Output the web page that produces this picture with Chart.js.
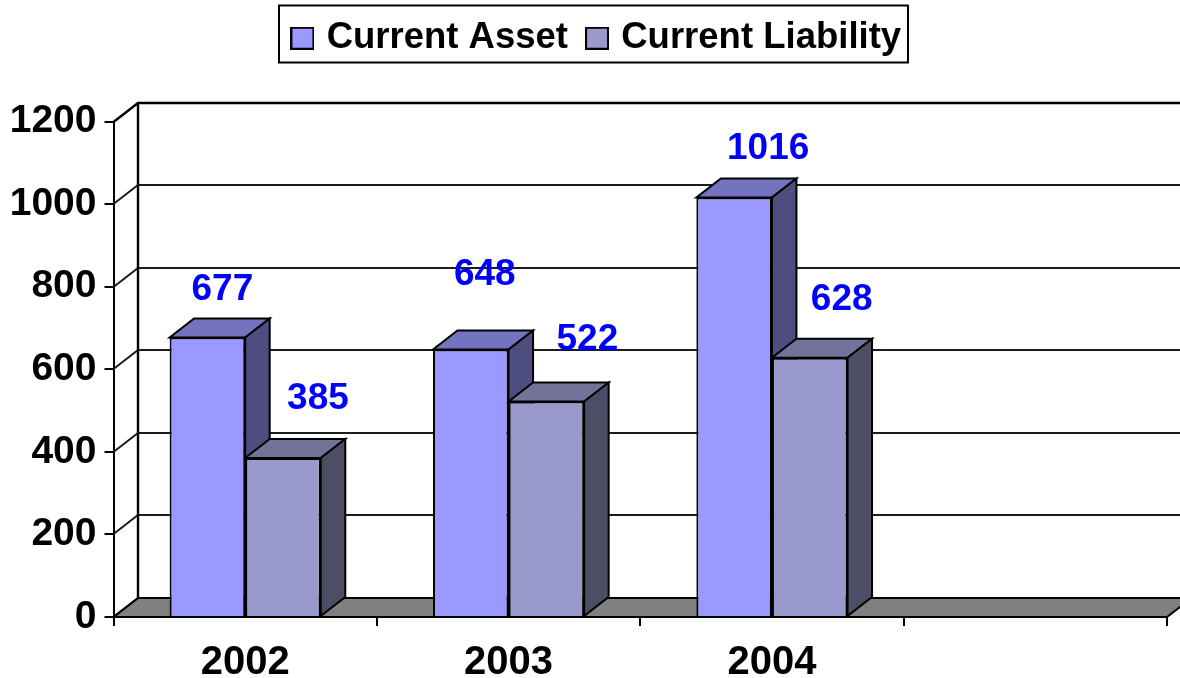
<!DOCTYPE html>
<html><head><meta charset="utf-8">
<style>html,body{margin:0;padding:0;background:#fff}#w{width:1180px;height:678px}canvas{display:block}</style>
<script src="https://cdn.jsdelivr.net/npm/chart.js@4"></script></head>
<body><div id="w"><canvas id="c" width="1180" height="678"></canvas></div>
<script>
const categories = ['2002', '2003', '2004', ''];
const currentAsset = [677, 648, 1016, null];
const currentLiability = [385, 522, 628, null];
const yTicks = [0, 200, 400, 600, 800, 1000, 1200];
// hand-placed data label nudges, as in the source (dx, dy from the bar's top centre)
const assetLabelNudge = [[15, -48], [14, -75], [34, -49]];
const liabilityLabelNudge = [[35, -59], [41, -62], [32, -58]];
const DX = 24.5, DY = -19;
const FONT = '"Liberation Sans", Arial, sans-serif';

function poly(ctx, pts, fill) {
  ctx.beginPath();
  pts.forEach((p, i) => i ? ctx.lineTo(p[0], p[1]) : ctx.moveTo(p[0], p[1]));
  ctx.closePath();
  if (fill) { ctx.fillStyle = fill; ctx.fill(); }
  ctx.stroke();
}

function swatch(fill) {
  const s = document.createElement('canvas');
  s.width = 24; s.height = 23;
  const c = s.getContext('2d');
  c.fillStyle = fill; c.fillRect(0, 0, 24, 23);
  c.strokeStyle = '#000'; c.lineWidth = 2; c.strokeRect(1, 1, 22, 21);
  return s;
}

const scene3d = {
  id: 'scene3d',
  beforeLayout(chart) {
    const l = chart.legend;
    if (l && !l._tall) {
      const fit = l.fit;
      l.fit = function () { fit.call(this); this.height += 52; };
      l._tall = true;
    }
  },
  afterLayout(chart) {
    const l = chart.legend;
    l.left += 12; l.right += 12; l.top -= 3; l.bottom -= 3;
  },
  beforeDatasetsDraw(chart) {
    const { ctx, chartArea: a, scales: { y } } = chart;
    ctx.save();
    ctx.strokeStyle = '#000'; ctx.lineJoin = 'miter';
    ctx.lineWidth = 2;
    poly(ctx, [[a.left, a.bottom], [a.left + DX, a.bottom + DY], [a.right + DX, a.bottom + DY], [a.right, a.bottom]], '#808080');
    yTicks.forEach(v => {
      const py = Math.round(y.getPixelForValue(v));
      ctx.lineWidth = v === 1200 ? 2.4 : 2;
      ctx.strokeStyle = v === 0 || v === 1200 ? '#000' : '#1c1c1c';
      ctx.beginPath();
      ctx.moveTo(a.left, py); ctx.lineTo(a.left + DX, py + DY); ctx.lineTo(a.right + DX, py + DY);
      ctx.stroke();
    });
    ctx.strokeStyle = '#000'; ctx.lineWidth = 2.4;
    ctx.beginPath();
    ctx.moveTo(a.left + DX, y.getPixelForValue(0) + DY);
    ctx.lineTo(a.left + DX, y.getPixelForValue(1200) + DY);
    ctx.stroke();
    ctx.lineWidth = 2;
    chart.data.datasets.forEach((ds, di) => {
      chart.getDatasetMeta(di).data.forEach((b, i) => {
        if (ds.data[i] == null) return;
        const l = b.x - b.width / 2, r = b.x + b.width / 2, t = b.y, bt = b.base;
        poly(ctx, [[l, t], [l + DX, t + DY], [r + DX, t + DY], [r, t]], ds.topColor);
        poly(ctx, [[r, t], [r + DX, t + DY], [r + DX, bt + DY], [r, bt]], ds.sideColor);
      });
    });
    ctx.restore();
  },
  afterDatasetsDraw(chart) {
    const { ctx } = chart;
    ctx.save();
    ctx.font = 'bold 37px ' + FONT;
    ctx.fillStyle = '#0000ff';
    ctx.textAlign = 'center'; ctx.textBaseline = 'middle';
    chart.data.datasets.forEach((ds, di) => {
      chart.getDatasetMeta(di).data.forEach((b, i) => {
        if (ds.data[i] == null) return;
        const n = ds.labelNudge[i];
        ctx.fillText(String(ds.data[i]), b.x + n[0], b.y + n[1]);
      });
    });
    ctx.restore();
  },
  afterDraw(chart) {
    const { ctx } = chart;
    ctx.save();
    ctx.strokeStyle = '#000'; ctx.lineWidth = 2;
    ctx.strokeRect(279, 5.5, 629, 57);
    ctx.restore();
  }
};

new Chart(document.getElementById('c'), {
  type: 'bar',
  plugins: [scene3d],
  data: {
    labels: categories,
    datasets: [
      { label: 'Current Asset', data: currentAsset, backgroundColor: '#9999ff', borderColor: '#000', borderWidth: 2,
        pointStyle: swatch('#9999ff'), topColor: '#7373bf', sideColor: '#4d4d80', labelNudge: assetLabelNudge },
      { label: 'Current Liability', data: currentLiability, backgroundColor: '#9999cc', borderColor: '#000', borderWidth: 2,
        pointStyle: swatch('#9999cc'), topColor: '#737399', sideColor: '#4d4d66', labelNudge: liabilityLabelNudge }
    ]
  },
  options: {
    responsive: false,
    animation: false,
    layout: { padding: { left: 6.5, right: 13, top: 0, bottom: 0 } },
    datasets: { bar: { categoryPercentage: 0.574, barPercentage: 1 } },
    plugins: {
      tooltip: { enabled: false },
      legend: {
        display: true, position: 'top',
        labels: { color: '#000', font: { family: FONT, weight: 'bold', size: 36.5 }, usePointStyle: true, pointStyleWidth: 12, padding: 23 }
      }
    },
    scales: {
      x: {
        grid: { display: true, drawOnChartArea: false, drawTicks: true, tickLength: 9, color: '#000', lineWidth: 2, offset: true },
        border: { display: true, color: '#000', width: 2 },
        ticks: { color: '#000', font: { family: FONT, weight: 'bold', size: 40 }, padding: 13, maxRotation: 0, autoSkip: false },
        afterFit(s) { s.height = 61; }
      },
      y: {
        min: 0, max: 1200,
        grid: { display: true, drawOnChartArea: false, drawTicks: true, tickLength: 9, color: '#000', lineWidth: 2 },
        border: { display: true, color: '#000', width: 2 },
        ticks: { color: '#000', stepSize: 200, font: { family: FONT, weight: 'bold', size: 39 }, padding: 8, callback: v => String(v) },
        afterFit(s) { s.width = 107; }
      }
    }
  }
});
</script></body></html>
